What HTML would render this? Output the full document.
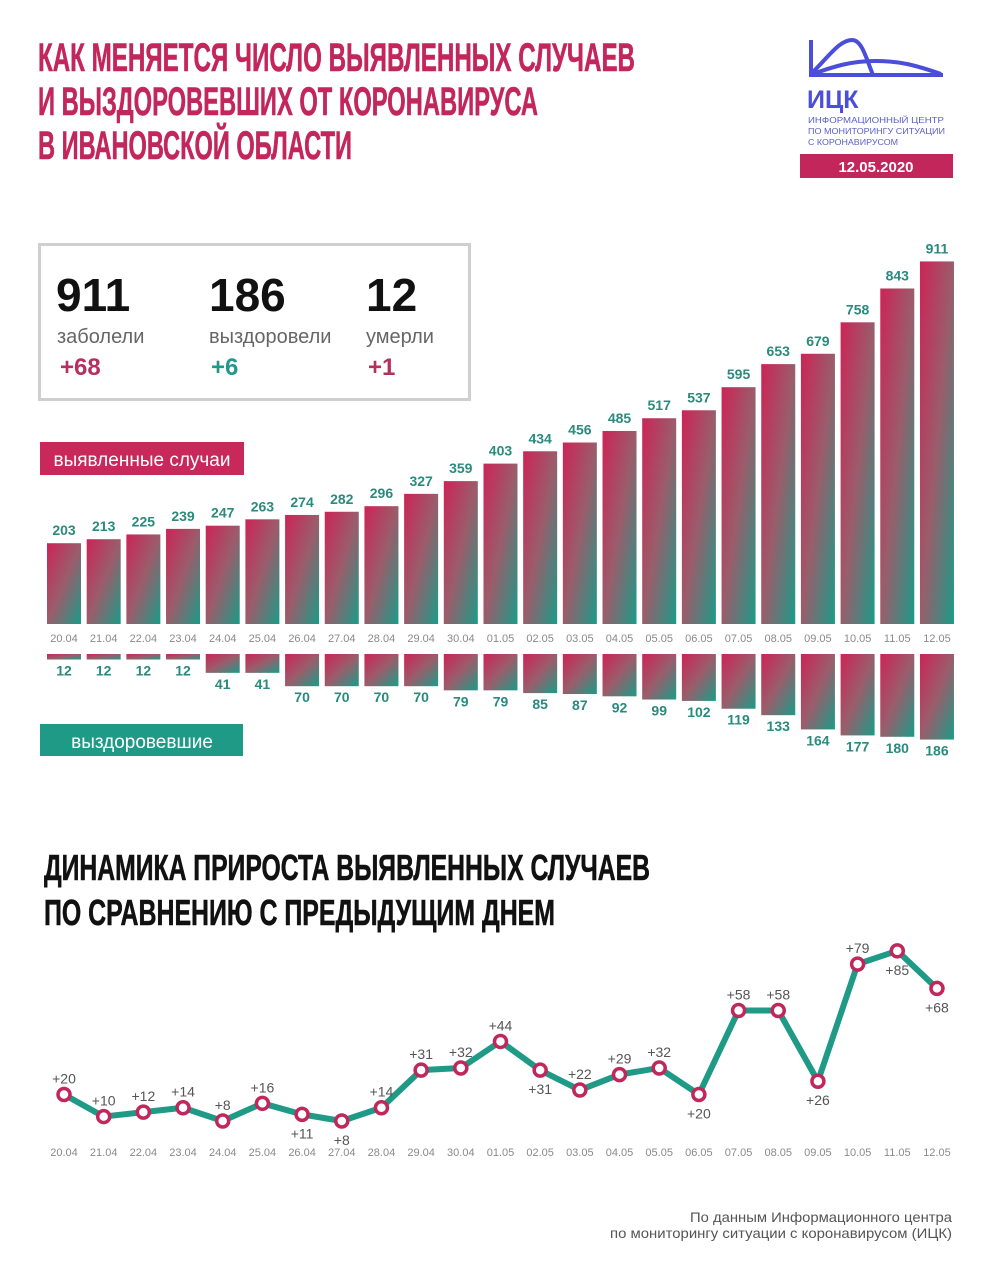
<!DOCTYPE html>
<html><head><meta charset="utf-8"><style>
html,body{margin:0;padding:0;background:#fff;}
svg{display:block;}
text{font-family:"Liberation Sans",sans-serif;}
.t{font-family:"Liberation Sans Narrow","Liberation Sans",sans-serif;font-weight:bold;}
</style></head><body>
<svg width="993" height="1280" viewBox="0 0 993 1280" xmlns="http://www.w3.org/2000/svg">
<defs>
<linearGradient id="g" x1="0" y1="0" x2="1" y2="1"><stop offset="0" stop-color="#cc2457"/><stop offset="0.5" stop-color="#9a5d6b"/><stop offset="1" stop-color="#1a9c88"/></linearGradient>
</defs>
<rect width="993" height="1280" fill="#fff"/>
<g class="t" fill="#c3265a" font-size="40" stroke="#c3265a" stroke-width="0.6">
<text x="38" y="71" textLength="597" lengthAdjust="spacingAndGlyphs" class="t">КАК МЕНЯЕТСЯ ЧИСЛО ВЫЯВЛЕННЫХ СЛУЧАЕВ</text>
<text x="38" y="115" textLength="500" lengthAdjust="spacingAndGlyphs" class="t">И ВЫЗДОРОВЕВШИХ ОТ КОРОНАВИРУСА</text>
<text x="38" y="159" textLength="314" lengthAdjust="spacingAndGlyphs" class="t">В ИВАНОВСКОЙ ОБЛАСТИ</text>
</g>
<g fill="none" stroke="#4a4ed8" stroke-width="4">
<path d="M811 40 V75 H943"/>
<path d="M812 73 C830 55 840 40 852 40 C862 40 866 58 873 75"/>
<path d="M813 74 C835 66 852 61 875 61 C900 61 915 65 941 74"/>
</g>
<text x="807" y="108" font-size="25" font-weight="bold" fill="#4a4ed8">ИЦК</text>
<g font-size="8.5" fill="#5a5ec8">
<text x="808" y="123" textLength="136" lengthAdjust="spacingAndGlyphs">ИНФОРМАЦИОННЫЙ ЦЕНТР</text>
<text x="808" y="134" textLength="137" lengthAdjust="spacingAndGlyphs">ПО МОНИТОРИНГУ СИТУАЦИИ</text>
<text x="808" y="145" textLength="90" lengthAdjust="spacingAndGlyphs">С КОРОНАВИРУСОМ</text>
</g>
<rect x="800" y="154" width="153" height="24" fill="#c3265a"/>
<text x="876" y="172" font-size="15" font-weight="bold" fill="#fff" text-anchor="middle">12.05.2020</text>
<rect x="39.5" y="244.5" width="430" height="155" fill="none" stroke="#cfcfcf" stroke-width="3"/>
<g font-size="46" font-weight="bold" fill="#111">
<text x="56" y="311">911</text><text x="209" y="311">186</text><text x="366" y="311">12</text></g>
<g font-size="20" fill="#666"><text x="57" y="343">заболели</text><text x="209" y="343">выздоровели</text><text x="366" y="343">умерли</text></g>
<g font-size="24" font-weight="bold"><text x="60" y="375" fill="#b5305f">+68</text><text x="211" y="375" fill="#21998a">+6</text><text x="368" y="375" fill="#b5305f">+1</text></g>
<rect x="40" y="442" width="204" height="33" fill="#c8285a"/>
<text x="142" y="466" font-size="19" fill="#fff" text-anchor="middle">выявленные случаи</text>
<rect x="40" y="724" width="203" height="32" fill="#1f9a87"/>
<text x="142" y="748" font-size="19" fill="#fff" text-anchor="middle">выздоровевшие</text>
<g id="bars"></g>
<g class="t" fill="#111" font-size="36" stroke="#111" stroke-width="0.6">
<text x="44" y="880" textLength="606" lengthAdjust="spacingAndGlyphs" class="t">ДИНАМИКА ПРИРОСТА ВЫЯВЛЕННЫХ СЛУЧАЕВ</text>
<text x="44" y="925" textLength="511" lengthAdjust="spacingAndGlyphs" class="t">ПО СРАВНЕНИЮ С ПРЕДЫДУЩИМ ДНЕМ</text>
</g>
<g id="line"></g>
<g font-size="14" fill="#555">
<text x="690" y="1222" textLength="262" lengthAdjust="spacingAndGlyphs">По данным Информационного центра</text>
<text x="610" y="1238" textLength="342" lengthAdjust="spacingAndGlyphs">по мониторингу ситуации с коронавирусом (ИЦК)</text>
</g>
<script>
(function(){
var NS="http://www.w3.org/2000/svg";
function el(p,t,a,txt){var e=document.createElementNS(NS,t);for(var k in a)e.setAttribute(k,a[k]);if(txt!=null)e.textContent=txt;p.appendChild(e);return e;}
var dates=["20.04","21.04","22.04","23.04","24.04","25.04","26.04","27.04","28.04","29.04","30.04","01.05","02.05","03.05","04.05","05.05","06.05","07.05","08.05","09.05","10.05","11.05","12.05"];
var cases=[203,213,225,239,247,263,274,282,296,327,359,403,434,456,485,517,537,595,653,679,758,843,911];
var rec=[12,12,12,12,41,41,70,70,70,70,79,79,85,87,92,99,102,119,133,164,177,180,186];
var inc=[20,10,12,14,8,16,11,8,14,31,32,44,31,22,29,32,20,58,58,26,79,85,68];
var below=[0,0,0,0,0,0,1,1,0,0,0,0,1,0,0,0,1,0,0,1,0,1,1];
var b=document.getElementById("bars"),l=document.getElementById("line");
var pts=[];
for(var i=0;i<23;i++){
 var x=64+39.68*i,h=cases[i]*0.398,ty=624-h;
 el(b,"rect",{x:x-17,y:ty,width:34,height:h,fill:"url(#g)"});
 el(b,"text",{x:x,y:ty-8,"font-size":14,"font-weight":"bold",fill:"#2a8a7e","text-anchor":"middle"},cases[i]);
 el(b,"text",{x:x,y:642,"font-size":11,fill:"#8a8a8a","text-anchor":"middle"},dates[i]);
 var rh=rec[i]*0.46;
 el(b,"rect",{x:x-17,y:654,width:34,height:rh,fill:"url(#g)"});
 el(b,"text",{x:x,y:654+rh+16,"font-size":14,"font-weight":"bold",fill:"#2a8a7e","text-anchor":"middle"},rec[i]);
 var y=1121-(inc[i]-8)*2.21;pts.push([x,y]);
 el(l,"text",{x:x,y:1156,"font-size":11,fill:"#8a8a8a","text-anchor":"middle"},dates[i]);
}
el(l,"polyline",{points:pts.map(function(p){return p.join(",")}).join(" "),fill:"none",stroke:"#1f9a87","stroke-width":6,"stroke-linejoin":"round"});
for(var i=0;i<23;i++){
 var p=pts[i];
 el(l,"circle",{cx:p[0],cy:p[1],r:6,fill:"#fff",stroke:"#c2275c","stroke-width":3.5});
 el(l,"text",{x:p[0],y:below[i]?p[1]+24:p[1]-11,"font-size":14,fill:"#555","text-anchor":"middle"},"+"+inc[i]);
}
})();
</script>
</svg>
</body></html>
